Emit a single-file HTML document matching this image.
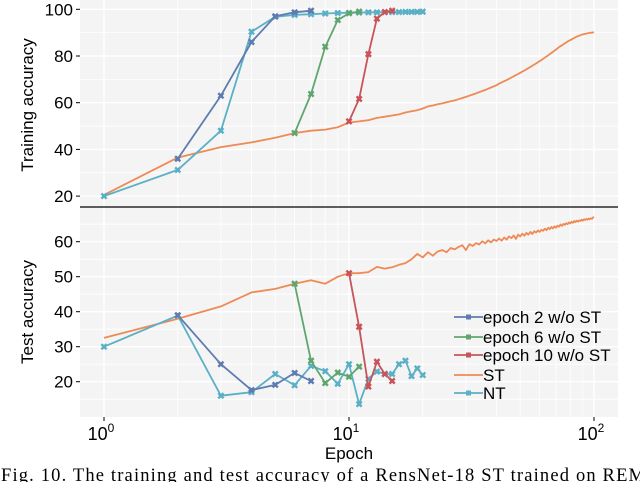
<!DOCTYPE html>
<html><head><meta charset="utf-8"><style>
body{margin:0;background:#fff;width:640px;height:482px;overflow:hidden}
svg{display:block;font-family:"Liberation Sans",sans-serif}
</style></head><body>
<svg id="c" width="640" height="482" viewBox="0 0 640 482"></svg>
<script>
const trainEp2=[[2,36],[3,63],[4,86],[5,97],[6,98.7],[7,99.4]];
const trainEp6=[[6,47],[7,63.7],[8,84],[9,95.4],[10,98.3],[11,99]];
const trainEp10=[[10,52],[11,61.6],[12,80.8],[13,96],[14,98.8],[15,99.4]];
const trainNT=[20,31.2,48,90.4,96.8,97.6,97.9,98.2,98.4,98.5,98.6,98.7,98.7,98.8,98.8,98.8,98.9,98.9,98.9,99];
const trainST=[20.5,36.5,41,43,45,47,48,48.5,49.5,51.5,52,52.5,53.5,54,54.5,55,55.8,56.3,56.8,57.5,
58.4,58.8,59.3,59.7,60.2,60.6,61,61.5,62,62.5,63,63.5,64,64.5,65,65.5,66,66.5,67,67.5,
68.2,68.7,69.2,69.7,70.2,70.8,71.3,71.8,72.3,72.8,73.3,73.8,74.3,74.8,75.3,75.8,76.3,76.8,77.3,77.8,
78.3,78.8,79.3,79.8,80.3,80.8,81.3,81.8,82.3,82.8,83.3,83.8,84.2,84.6,85,85.4,85.8,86.2,86.5,86.8,
87.1,87.4,87.7,88,88.3,88.5,88.7,88.9,89.1,89.3,89.4,89.5,89.6,89.7,89.8,89.9,90,90,90.1,90.2];
const testEp2=[[2,39],[3,25],[4,17.6],[5,19.1],[6,22.5],[7,20.2]];
const testEp6=[[6,48],[7,26],[8,19.6],[9,22.6],[10,21.4],[11,24.3]];
const testEp10=[[10,51],[11,35.7],[12,18.6],[13,25.7],[14,22.2],[15,20.2]];
const testNT=[30,38.9,16,17,22.2,19,24.5,23,19.4,25,13.6,20.8,22.9,22.2,22.2,25,26,21.6,23.8,21.9];
const testST=[32.5,38,41.5,45.5,46.5,48,49,48,50,51,51,51.3,52.8,52.3,52.7,53.4,53.9,55,56.5,55.5,
57,56,57.2,57.6,57,58.2,57.8,58.5,59,57.6,59.3,58.8,59.6,59.2,60.1,59.5,60.4,59.8,60.6,60.2,
60.9,60.3,61.2,60.6,61.5,61,61.8,60.8,62,61.5,62.3,61.7,62.5,62,62.8,62.2,63,62.6,63.2,62.8,
63.4,63.1,63.7,63.3,64,63.6,64.2,63.8,64.4,64,64.6,64.3,64.9,64.5,65.1,64.8,65.3,65,65.5,65.2,
65.7,65.4,65.9,65.6,66,65.7,66.1,65.9,66.3,66,66.4,66.2,66.5,66.3,66.6,66.4,66.7,66.5,66.9,67.1];
const topTicks=[20,40,60,80,100];
const botTicks=[20,30,40,50,60];
const xTicks=[0,1,2];
const legendLabels=["epoch 2 w/o ST","epoch 6 w/o ST","epoch 10 w/o ST","ST","NT"];

const C={e2:"#5f7cb0",e6:"#5fa66e",e10:"#c8545a",st:"#ee8a55",nt:"#5bb0c6"};
const L=80,R=618;
const x=e=>104+245*Math.log10(e);
const yT=v=>9.3+(100-v)*2.335;
const yB=v=>241.7+(60-v)*3.5;
const svg=document.getElementById('c');
const NS="http://www.w3.org/2000/svg";
function mk(t,a,p){const e=document.createElementNS(NS,t);for(const k in a)e.setAttribute(k,a[k]);(p||svg).appendChild(e);return e;}

function panel(top,bot,yf,ticks,minor,name){
  const g=mk('g',{});
  
  
  mk('rect',{x:L,y:top,width:R-L,height:bot-top,fill:'#f4f4f4'},g);
  const xs=[];for(let d=0;d<3;d++)for(let k=1;k<10;k++)xs.push(k*Math.pow(10,d));
  xs.forEach(e=>{const X=x(e);if(X>L&&X<R)mk('line',{x1:X,x2:X,y1:top,y2:bot,stroke:'#fff','stroke-width':e==1||e==10||e==100?1.4:0.8},g);});
  minor.forEach(v=>{const Y=yf(v);if(Y>top&&Y<bot)mk('line',{x1:L,x2:R,y1:Y,y2:Y,stroke:'#fff','stroke-width':0.8},g);});
  ticks.forEach(v=>{const Y=yf(v);mk('line',{x1:L,x2:R,y1:Y,y2:Y,stroke:'#fff','stroke-width':1.4},g);
    mk('line',{x1:L-4,x2:L,y1:Y,y2:Y,stroke:'#000','stroke-width':1},g);
    const t=mk('text',{x:L-7,y:Y+6,'text-anchor':'end','font-size':17},g);t.textContent=v;
    });
}
panel(0,207,yT,topTicks,[30,50,70,90],'training-panel');
panel(207,417,yB,botTicks,[15,25,35,45,55,65],'test-panel');
mk('line',{x1:L,x2:R,y1:207,y2:207,stroke:'#000','stroke-width':1.3});

function series(pts,yf,col,name,marker){
  const g=mk('g',{});
  
  
  mk('polyline',{points:pts.map(p=>x(p[0]).toFixed(1)+','+yf(p[1]).toFixed(1)).join(' '),fill:'none',stroke:col,'stroke-width':1.8,'stroke-linejoin':'round'},g);
  if(marker)pts.forEach(p=>{const X=x(p[0]),Y=yf(p[1]);
    mk('path',{d:`M${X-2.6},${Y-2.6}L${X+2.6},${Y+2.6}M${X+2.6},${Y-2.6}L${X-2.6},${Y+2.6}`,stroke:col,'stroke-width':2.4},g);
    mk('rect',{x:X-2,y:Y-2,width:4,height:4,fill:col},g);});
}
const idx=a=>a.map((v,i)=>[i+1,v]);
series(idx(trainST),yT,C.st,'train-st-line',false);
series(idx(trainNT),yT,C.nt,'train-nt-line',true);
series(trainEp2,yT,C.e2,'train-epoch2-line',true);
series(trainEp6,yT,C.e6,'train-epoch6-line',true);
series(trainEp10,yT,C.e10,'train-epoch10-line',true);
series(idx(testST),yB,C.st,'test-st-line',false);
series(idx(testNT),yB,C.nt,'test-nt-line',true);
series(testEp2,yB,C.e2,'test-epoch2-line',true);
series(testEp6,yB,C.e6,'test-epoch6-line',true);
series(testEp10,yB,C.e10,'test-epoch10-line',true);

xTicks.forEach(d=>{const X=x(Math.pow(10,d));
  mk('line',{x1:X,x2:X,y1:417,y2:421,stroke:'#000','stroke-width':1});
  const t=mk('text',{x:X-3,y:440,'text-anchor':'middle','font-size':18});
  
  t.textContent='10';const s=mk('tspan',{dy:-8,'font-size':12},t);s.textContent=d;});
const xl=mk('text',{x:349,y:459,'text-anchor':'middle','font-size':17});xl.textContent='Epoch';

const y1=mk('text',{transform:'translate(33,105) rotate(-90)','text-anchor':'middle','font-size':17});y1.textContent='Training accuracy';

const y2=mk('text',{transform:'translate(33,312) rotate(-90)','text-anchor':'middle','font-size':17});y2.textContent='Test accuracy';


const cols=[C.e2,C.e6,C.e10,C.st,C.nt];
const ly=[317,337,355,375,393];
legendLabels.forEach((lab,i)=>{const g=mk('g',{});
  
  mk('line',{x1:454,x2:483,y1:ly[i],y2:ly[i],stroke:cols[i],'stroke-width':1.8},g);
  if(i!=3)mk('rect',{x:466,y:ly[i]-2.5,width:5,height:5,fill:cols[i]},g);
  const t=mk('text',{x:483,y:ly[i]+6,'font-size':17},g);t.textContent=lab;});

const cap=mk('text',{x:1,y:481,'font-size':18.5,'font-family':'"Liberation Serif",serif',textLength:644,lengthAdjust:'spacing'});
cap.textContent='Fig. 10.  The training and test accuracy of a RensNet-18 ST trained on REM';

</script>
</body></html>
